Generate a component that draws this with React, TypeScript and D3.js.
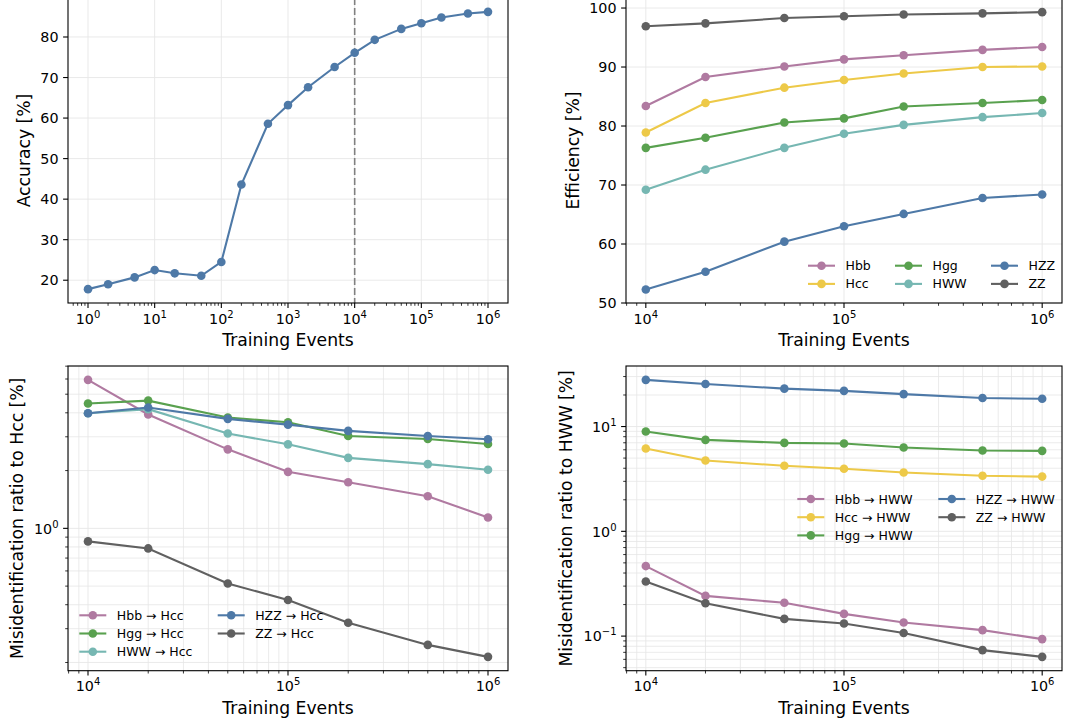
import React from "react";
import * as d3 from "d3";

// ---- Data -----------------------------------------------------------------
const accTrainSizes = [1, 2, 5, 10, 20, 50, 100, 200, 500, 1000, 2000, 5000, 1e4, 2e4, 5e4, 1e5, 2e5, 5e5, 1e6];
const accuracy = [17.8, 19.0, 20.7, 22.5, 21.7, 21.1, 24.5, 43.6, 58.6, 63.2, 67.6, 72.6, 76.1, 79.3, 82.0, 83.4, 84.8, 85.8, 86.2];

const trainSizes = [1e4, 2e4, 5e4, 1e5, 2e5, 5e5, 1e6];

const classNames = ["Hbb", "Hcc", "Hgg", "HWW", "HZZ", "ZZ"];
const classColors = ["#b07aa1", "#edc948", "#59a14f", "#76b7b2", "#4e79a7", "#606060"];

// Per-class selection efficiency [%]
const effHbb = [83.4, 88.3, 90.1, 91.3, 92.0, 92.9, 93.4];
const effHcc = [78.9, 83.9, 86.5, 87.8, 88.9, 90.0, 90.1];
const effHgg = [76.3, 78.0, 80.6, 81.3, 83.3, 83.9, 84.4];
const effHWW = [69.2, 72.6, 76.3, 78.7, 80.2, 81.5, 82.2];
const effHZZ = [52.3, 55.3, 60.4, 63.0, 65.1, 67.8, 68.4];
const effZZ = [96.9, 97.4, 98.3, 98.6, 98.9, 99.1, 99.3];

// Misidentification into Hcc [%]
const misHbbToHcc = [5.94, 3.92, 2.58, 1.97, 1.74, 1.47, 1.14];
const misHggToHcc = [4.47, 4.63, 3.78, 3.57, 3.03, 2.92, 2.75];
const misHWWToHcc = [3.98, 4.18, 3.12, 2.74, 2.33, 2.16, 2.02];
const misHZZToHcc = [3.98, 4.26, 3.72, 3.47, 3.22, 3.03, 2.91];
const misZZToHcc = [0.855, 0.786, 0.516, 0.423, 0.322, 0.247, 0.214];

// Misidentification into HWW [%]
const misHbbToHWW = [0.466, 0.242, 0.208, 0.163, 0.135, 0.114, 0.0936];
const misHccToHWW = [6.17, 4.74, 4.22, 3.95, 3.64, 3.39, 3.33];
const misHggToHWW = [8.96, 7.46, 6.98, 6.88, 6.31, 5.91, 5.86];
const misHZZToHWW = [27.9, 25.5, 23.0, 21.9, 20.4, 18.7, 18.4];
const misZZToHWW = [0.332, 0.206, 0.146, 0.132, 0.107, 0.0735, 0.0634];

const effTicks = [50, 60, 70, 80, 90, 100];
const accTicks = [20, 30, 40, 50, 60, 70, 80];

// ---- Helpers --------------------------------------------------------------
type Series = { label: string; color: string; values: number[] };

const FONT = "DejaVu Sans, sans-serif";
const GRID = "#e6e6e6";
const LW = 2.1;
const MR = 4.3;

const colorOf = (name: string) => classColors[classNames.indexOf(name)];

function logPadDomain(vals: number[], frac = 0.05): [number, number] {
  const lo = Math.log10(d3.min(vals) as number);
  const hi = Math.log10(d3.max(vals) as number);
  const p = (hi - lo) * frac;
  return [Math.pow(10, lo - p), Math.pow(10, hi + p)];
}
function linPadDomain(vals: number[], frac = 0.05): [number, number] {
  const lo = d3.min(vals) as number;
  const hi = d3.max(vals) as number;
  const p = (hi - lo) * frac;
  return [lo - p, hi + p];
}
function logTicks(domain: [number, number]) {
  const [lo, hi] = domain;
  const major: number[] = [];
  const minor: number[] = [];
  for (let e = Math.floor(Math.log10(lo)) - 1; e <= Math.ceil(Math.log10(hi)); e++) {
    const p = Math.pow(10, e);
    if (p >= lo * 0.9999 && p <= hi * 1.0001) major.push(e);
    for (let k = 2; k <= 9; k++) {
      const v = k * p;
      if (v >= lo && v <= hi) minor.push(v);
    }
  }
  return { major, minor };
}

function PowLabel({ x, y, e, anchor }: { x: number; y: number; e: number; anchor: "middle" | "end" }) {
  const exp = e < 0 ? "\u2212" + String(-e) : String(e);
  return (
    <text x={x} y={y} textAnchor={anchor} fontSize={14.3} fontFamily={FONT} fill="#000">
      <tspan>10</tspan>
      <tspan dy={-6} fontSize={10}>{exp}</tspan>
    </text>
  );
}

type PanelProps = {
  left: number;
  right: number;
  top: number;
  bottom: number;
  xDomain: [number, number];
  yDomain: [number, number];
  yLog: boolean;
  yTicks?: number[];
  xs: number[];
  series: Series[];
  minorGrid: boolean;
  yLabel: string;
  yLabelX: number;
  legend?: { x0: number; y0: number; colX: number[]; rows: number };
  vline?: number;
};

function Panel(p: PanelProps) {
  const x = d3.scaleLog().domain(p.xDomain).range([p.left, p.right]);
  const y = p.yLog
    ? d3.scaleLog().domain(p.yDomain).range([p.bottom, p.top])
    : d3.scaleLinear().domain(p.yDomain).range([p.bottom, p.top]);
  const xt = logTicks(p.xDomain);
  const yt = p.yLog ? logTicks(p.yDomain) : { major: p.yTicks || [], minor: [] as number[] };
  const yMajorVals = p.yLog ? yt.major.map((e) => Math.pow(10, e)) : yt.major;
  const line = d3
    .line<number>()
    .x((_, i) => x(p.xs[i]))
    .y((d) => y(d));
  const clipId = `clip-${p.left}-${p.top}`;

  return (
    <g>
      <defs>
        <clipPath id={clipId}>
          <rect x={p.left} y={p.top} width={p.right - p.left} height={p.bottom - p.top} />
        </clipPath>
      </defs>
      {/* grid */}
      <g>
        {p.minorGrid &&
          xt.minor.map((v) => (
            <line key={"xgm" + v} x1={x(v)} x2={x(v)} y1={p.top} y2={p.bottom} stroke={GRID} strokeWidth={0.8} />
          ))}
        {p.minorGrid &&
          yt.minor.map((v) => (
            <line key={"ygm" + v} x1={p.left} x2={p.right} y1={y(v)} y2={y(v)} stroke={GRID} strokeWidth={0.8} />
          ))}
        {xt.major.map((e) => (
          <line key={"xg" + e} x1={x(Math.pow(10, e))} x2={x(Math.pow(10, e))} y1={p.top} y2={p.bottom} stroke={GRID} strokeWidth={0.9} />
        ))}
        {yMajorVals.map((v) => (
          <line key={"yg" + v} x1={p.left} x2={p.right} y1={y(v)} y2={y(v)} stroke={GRID} strokeWidth={0.9} />
        ))}
      </g>
      {p.vline !== undefined && (
        <line
          x1={x(p.vline)}
          x2={x(p.vline)}
          y1={p.top}
          y2={p.bottom}
          stroke="#808080"
          strokeWidth={1.6}
          strokeDasharray="7,3"
        />
      )}
      {/* series */}
      <g clipPath={`url(#${clipId})`}>
        {p.series.map((s) => (
          <g key={s.label}>
            <path d={line(s.values) || ""} fill="none" stroke={s.color} strokeWidth={LW} />
            {s.values.map((v, i) => (
              <circle key={i} cx={x(p.xs[i])} cy={y(v)} r={MR} fill={s.color} />
            ))}
          </g>
        ))}
      </g>
      {/* spines */}
      <rect x={p.left} y={p.top} width={p.right - p.left} height={p.bottom - p.top} fill="none" stroke="#000" strokeWidth={1.1} />
      {/* x ticks */}
      {xt.minor.map((v) => (
        <line key={"xtm" + v} x1={x(v)} x2={x(v)} y1={p.bottom} y2={p.bottom + 2.8} stroke="#000" strokeWidth={0.8} />
      ))}
      {xt.major.map((e) => (
        <g key={"xt" + e}>
          <line x1={x(Math.pow(10, e))} x2={x(Math.pow(10, e))} y1={p.bottom} y2={p.bottom + 4.9} stroke="#000" strokeWidth={1.1} />
          <PowLabel x={x(Math.pow(10, e))} y={p.bottom + 20.5} e={e} anchor="middle" />
        </g>
      ))}
      {/* y ticks */}
      {yt.minor.map((v) => (
        <line key={"ytm" + v} x1={p.left - 2.8} x2={p.left} y1={y(v)} y2={y(v)} stroke="#000" strokeWidth={0.8} />
      ))}
      {yMajorVals.map((v, i) => (
        <g key={"yt" + v}>
          <line x1={p.left - 4.9} x2={p.left} y1={y(v)} y2={y(v)} stroke="#000" strokeWidth={1.1} />
          {p.yLog ? (
            <PowLabel x={p.left - 9.5} y={y(v) + 5.2} e={yt.major[i]} anchor="end" />
          ) : (
            <text x={p.left - 9.5} y={y(v) + 5.2} textAnchor="end" fontSize={14.3} fontFamily={FONT} fill="#000">
              {v}
            </text>
          )}
        </g>
      ))}
      {/* axis labels */}
      <text
        x={(p.left + p.right) / 2}
        y={p.bottom + 43}
        textAnchor="middle"
        fontSize={17.2}
        fontFamily={FONT}
        fill="#000"
      >
        Training Events
      </text>
      <text
        transform={`translate(${p.yLabelX},${(p.top + p.bottom) / 2}) rotate(-90)`}
        textAnchor="middle"
        fontSize={17.2}
        fontFamily={FONT}
        fill="#000"
      >
        {p.yLabel}
      </text>
      {/* legend */}
      {p.legend &&
        p.series.map((s, i) => {
          const L = p.legend!;
          const col = Math.floor(i / L.rows);
          const row = i % L.rows;
          const hx = L.colX[col];
          const hy = L.y0 + row * 18.2;
          return (
            <g key={"lg" + s.label}>
              <line x1={hx} x2={hx + 27} y1={hy} y2={hy} stroke={s.color} strokeWidth={LW} />
              <circle cx={hx + 13.5} cy={hy} r={MR} fill={s.color} />
              <text x={hx + 37.5} y={hy} dy="0.36em" fontSize={12.5} fontFamily={FONT} fill="#000">
                {s.label}
              </text>
            </g>
          );
        })}
    </g>
  );
}

// ---- Chart ----------------------------------------------------------------
export default function App() {
  const effSeries: Series[] = [
    { label: "Hbb", color: colorOf("Hbb"), values: effHbb },
    { label: "Hcc", color: colorOf("Hcc"), values: effHcc },
    { label: "Hgg", color: colorOf("Hgg"), values: effHgg },
    { label: "HWW", color: colorOf("HWW"), values: effHWW },
    { label: "HZZ", color: colorOf("HZZ"), values: effHZZ },
    { label: "ZZ", color: colorOf("ZZ"), values: effZZ },
  ];
  const hccSeries: Series[] = [
    { label: "Hbb \u2192 Hcc", color: colorOf("Hbb"), values: misHbbToHcc },
    { label: "Hgg \u2192 Hcc", color: colorOf("Hgg"), values: misHggToHcc },
    { label: "HWW \u2192 Hcc", color: colorOf("HWW"), values: misHWWToHcc },
    { label: "HZZ \u2192 Hcc", color: colorOf("HZZ"), values: misHZZToHcc },
    { label: "ZZ \u2192 Hcc", color: colorOf("ZZ"), values: misZZToHcc },
  ];
  const hwwSeries: Series[] = [
    { label: "Hbb \u2192 HWW", color: colorOf("Hbb"), values: misHbbToHWW },
    { label: "Hcc \u2192 HWW", color: colorOf("Hcc"), values: misHccToHWW },
    { label: "Hgg \u2192 HWW", color: colorOf("Hgg"), values: misHggToHWW },
    { label: "HZZ \u2192 HWW", color: colorOf("HZZ"), values: misHZZToHWW },
    { label: "ZZ \u2192 HWW", color: colorOf("ZZ"), values: misZZToHWW },
  ];

  const accX = logPadDomain(accTrainSizes);
  const sizeX = logPadDomain(trainSizes);
  const accY = linPadDomain(accuracy);
  const hccY = logPadDomain(hccSeries.flatMap((s) => s.values));
  const hwwY = logPadDomain(hwwSeries.flatMap((s) => s.values));

  return (
    <svg
      width={1067}
      height={724}
      viewBox="0 0 1067 724"
      style={{ position: "fixed", left: 0, top: 0, background: "#fff" }}
    >
      <rect x={0} y={0} width={1067} height={724} fill="#fff" />
      <Panel
        left={68}
        right={508}
        top={-2}
        bottom={303}
        xDomain={accX}
        yDomain={accY}
        yLog={false}
        yTicks={accTicks}
        xs={accTrainSizes}
        series={[{ label: "Accuracy", color: "#4e79a7", values: accuracy }]}
        minorGrid={false}
        yLabel="Accuracy [%]"
        yLabelX={30}
        vline={1e4}
      />
      <Panel
        left={626}
        right={1062}
        top={-2}
        bottom={303}
        xDomain={sizeX}
        yDomain={[50, 101.7]}
        yLog={false}
        yTicks={effTicks}
        xs={trainSizes}
        series={effSeries}
        minorGrid={false}
        yLabel="Efficiency [%]"
        yLabelX={579}
        legend={{ x0: 808, y0: 265.7, colX: [808, 895, 991], rows: 2 }}
      />
      <Panel
        left={68}
        right={508}
        top={366}
        bottom={670.7}
        xDomain={sizeX}
        yDomain={hccY}
        yLog={true}
        xs={trainSizes}
        series={hccSeries}
        minorGrid={true}
        yLabel="Misidentification ratio to Hcc [%]"
        yLabelX={22.5}
        legend={{ x0: 79.3, y0: 615.3, colX: [79.3, 217.7], rows: 3 }}
      />
      <Panel
        left={626}
        right={1062}
        top={366}
        bottom={670.7}
        xDomain={sizeX}
        yDomain={hwwY}
        yLog={true}
        xs={trainSizes}
        series={hwwSeries}
        minorGrid={true}
        yLabel="Misidentification ratio to HWW [%]"
        yLabelX={571.5}
        legend={{ x0: 797.3, y0: 499, colX: [797.3, 938.3], rows: 3 }}
      />
    </svg>
  );
}
